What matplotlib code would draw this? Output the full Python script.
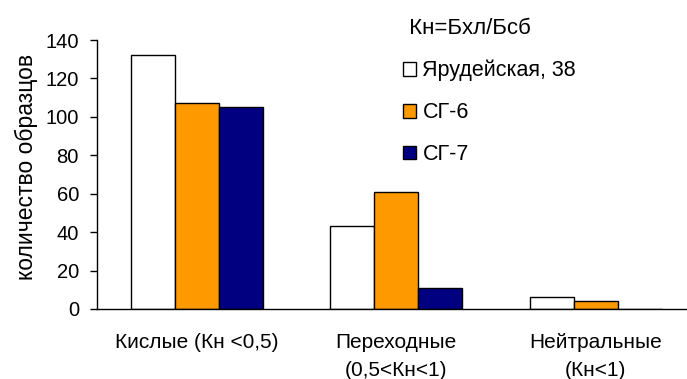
import matplotlib
matplotlib.use("Agg")
import matplotlib.pyplot as plt
import numpy as np
from matplotlib.patches import Patch

plt.rcParams['font.family'] = ['Liberation Sans', 'DejaVu Sans']

categories = ["Кислые (Кн <0,5)", "Переходные\n(0,5<Кн<1)", "Нейтральные\n(Кн<1)"]
series_names = ["Ярудейская, 38", "СГ-6", "СГ-7"]
yarudeyskaya = [132, 43, 6]
sg6 = [107, 61, 4]
sg7 = [105, 11, 0]
legend_title = " Кн=Бхл/Бсб"
y_label = "количество образцов"
y_ticks = [0, 20, 40, 60, 80, 100, 120, 140]

colors = ["#FFFFFF", "#FF9900", "#000080"]
FS = 14.5

fig = plt.figure(figsize=(6.87, 3.79), dpi=100)
ax = fig.add_axes([97 / 687, 70 / 379, 598.5 / 687, 269 / 379])

x = np.arange(len(categories))
width = 0.22
for i, (vals, name, c) in enumerate(zip([yarudeyskaya, sg6, sg7], series_names, colors)):
    ax.bar(x + (i - 1) * width, vals, width, color=c, edgecolor="black",
           linewidth=1.0, label=name, zorder=2)

ax.set_xlim(-0.5, 2.5)
ax.set_ylim(0, 140)
ax.set_yticks(y_ticks)
ax.set_xticks(x)
ax.set_xticklabels(categories, fontsize=15, linespacing=1.6)
ax.tick_params(axis="x", length=0, pad=17)
ax.tick_params(axis="y", length=5, width=1.0, pad=8, labelsize=FS)

for s in ["top", "right"]:
    ax.spines[s].set_visible(False)
ax.spines["left"].set_linewidth(1.0)
ax.spines["bottom"].set_linewidth(1.0)

fig.text(26 / 687, 1 - 167 / 379, y_label, rotation=90, fontsize=16.5,
         ha="center", va="center")

handles = [Patch(facecolor=c, edgecolor="black", linewidth=1.0) for c in colors]
leg = fig.legend(handles, series_names, title=legend_title, loc="upper left",
                 bbox_to_anchor=(403 / 687, 1 - 18 / 379), frameon=False,
                 fontsize=15.5, title_fontsize=16, alignment="left",
                 borderpad=0, borderaxespad=0, labelspacing=0.97,
                 handlelength=0.6, handleheight=0.6, handletextpad=0.3)

fig.savefig("out.png", dpi=100)
